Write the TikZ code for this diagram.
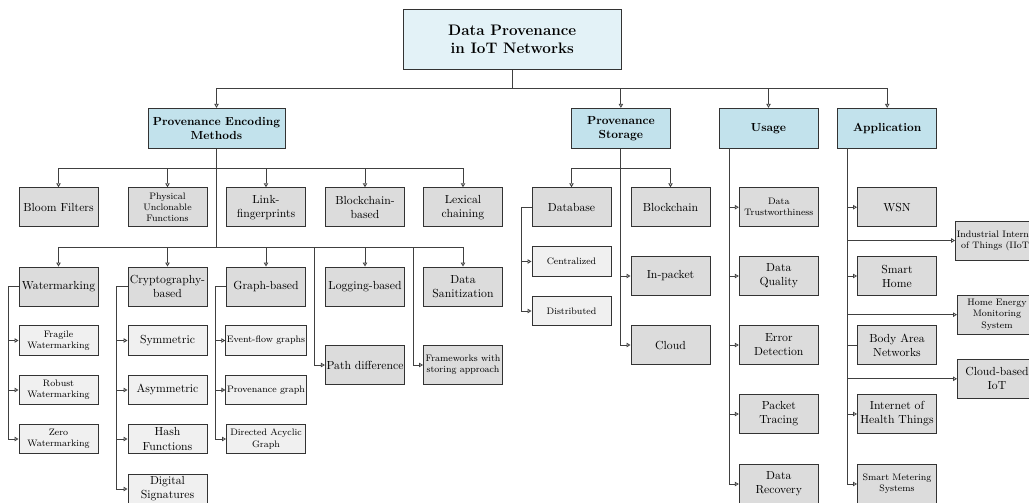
\documentclass[tikz,border=0pt]{standalone}
\usetikzlibrary{arrows.meta}
\definecolor{rootfill}{HTML}{E3F2F7}
\definecolor{lonefill}{HTML}{C2E2EC}
\definecolor{darkfill}{HTML}{DCDCDC}
\definecolor{lightfill}{HTML}{F0F0F0}
\definecolor{bordercol}{HTML}{333333}
\definecolor{edgecol}{HTML}{404040}
\begin{document}
\begin{tikzpicture}[x=0.854pt,y=-0.854pt,
 box/.style={draw=bordercol, line width=0.8pt, align=center, inner sep=1pt},
 rootbox/.style={box, fill=rootfill, minimum width=186pt, minimum height=51pt, font=\fontsize{13}{16}\selectfont\bfseries},
 topbox/.style={box, fill=lonefill, minimum width=84.5pt, minimum height=34pt, font=\bfseries},
 midbox/.style={box, fill=darkfill, minimum width=67.5pt, minimum height=33.3pt},
 subbox/.style={box, fill=lightfill, minimum width=67.5pt, minimum height=25.2pt},
 small/.style={font=\footnotesize},
 conn/.style={draw=edgecol, line width=0.7pt},
 arr/.style={conn, -{Triangle[open,length=3.4pt,width=3.8pt]}},
]
\useasboundingbox (0,0) rectangle (1029,502);
\clip (0,0) rectangle (1029,502);

% root and level 1
\node[rootbox] (root) at (512.2,39.3) {Data Provenance\\in IoT Networks};
\node[topbox, minimum width=117pt] (enc) at (216.5,128.2) {Provenance Encoding\\Methods};
\node[topbox] (stor) at (620.9,128.2) {Provenance\\Storage};
\node[topbox] (usage) at (768.5,128.2) {Usage};
\node[topbox] (app) at (887.2,128.2) {Application};

% encoding row 2
\node[midbox] (bloom) at (58.5,207.2) {Bloom Filters};
\node[midbox, small] (puf) at (167.5,207.2) {Physical\\Unclonable\\Functions};
\node[midbox] (link) at (266,207.2) {Link-\\fingerprints};
\node[midbox] (bcb) at (365,207.2) {Blockchain-\\based};
\node[midbox] (lex) at (463,207.2) {Lexical\\chaining};

% encoding row 3
\node[midbox] (wm) at (58.5,286.5) {Watermarking};
\node[midbox] (crypto) at (167.5,286.5) {Cryptography-\\based};
\node[midbox] (graph) at (266,286.5) {Graph-based};
\node[midbox] (logb) at (365,286.5) {Logging-based};
\node[midbox] (san) at (463,286.5) {Data\\Sanitization};

% sub items
\node[subbox, small] (frag) at (58.5,340.5) {Fragile\\Watermarking};
\node[subbox, small] (rob) at (58.5,390) {Robust\\Watermarking};
\node[subbox, small] (zero) at (58.5,439) {Zero\\Watermarking};
\node[subbox] (sym) at (167.5,340.5) {Symmetric};
\node[subbox] (asym) at (167.5,390) {Asymmetric};
\node[subbox] (hash) at (167.5,439) {Hash\\Functions};
\node[subbox] (dsig) at (167.5,489) {Digital\\Signatures};
\node[subbox, small] (efg) at (266,340.5) {Event-flow graphs};
\node[subbox, small] (pg) at (266,390) {Provenance graph};
\node[subbox, small] (dag) at (266,439) {Directed Acyclic\\Graph};
\node[midbox] (pd) at (365,365) {Path difference};
\node[midbox, small] (fw) at (463,365) {Frameworks with\\storing approach};

% storage
\node[midbox] (db) at (571.5,207.2) {Database};
\node[midbox] (bc) at (670.5,207.2) {Blockchain};
\node[subbox, small] (cent) at (571.5,261.5) {Centralized};
\node[subbox, small] (dist) at (571.5,311) {Distributed};
\node[midbox] (inpk) at (670.5,276) {In-packet};
\node[midbox] (cloud) at (670.5,345) {Cloud};

% usage
\node[midbox, small] (dt) at (778.8,207.2) {Data\\Trustworthiness};
\node[midbox] (dq) at (778.8,276) {Data\\Quality};
\node[midbox] (ed) at (778.8,345) {Error\\Detection};
\node[midbox] (pt) at (778.8,414) {Packet\\Tracing};
\node[midbox] (dr) at (778.8,484) {Data\\Recovery};

% application
\node[midbox] (wsn) at (897,207.2) {WSN};
\node[midbox] (sh) at (897,276) {Smart\\Home};
\node[midbox] (ban) at (897,345) {Body Area\\Networks};
\node[midbox] (ioht) at (897,414) {Internet of\\Health Things};
\node[midbox, small] (sms) at (897,484) {Smart Metering\\Systems};
\node[midbox, small] (iiot) at (997,240.5) {Industrial Internet\\of Things (IIoT)};
\node[midbox, small] (hems) at (997,314.7) {Home Energy\\Monitoring\\System};
\node[midbox] (ciot) at (997,378.8) {Cloud-based\\IoT};

% root edges
\foreach \t in {enc,stor,usage,app}
  \draw[arr] (root.south) -- ++(0,19) -| (\t.north);

% encoding edges
\foreach \t in {bloom,puf,link,bcb,lex}
  \draw[arr] (enc.south) -- ++(0,19.5) -| (\t.north);
\foreach \t in {wm,crypto,graph,logb,san}
  \draw[arr] (enc.south) -- ++(0,98.5) -| (\t.north);
\draw[arr] (enc.south) -- ++(0,98.5) -| ([xshift=-8.54pt]pd.west) -- (pd.west);
\draw[arr] (enc.south) -- ++(0,98.5) -| ([xshift=-8.54pt]fw.west) -- (fw.west);

\foreach \t in {frag,rob,zero}
  \draw[arr] (wm.west) -- ++(-9.7,0) |- (\t.west);
\foreach \t in {sym,asym,hash,dsig}
  \draw[arr] (crypto.west) -- ++(-11,0) |- (\t.west);
\foreach \t in {efg,pg,dag}
  \draw[arr] (graph.west) -- ++(-10.3,0) |- (\t.west);

% storage edges
\foreach \t in {db,bc}
  \draw[arr] (stor.south) -- ++(0,19.5) -| (\t.north);
\foreach \t in {inpk,cloud}
  \draw[arr] (stor.south) |- (\t.west);
\foreach \t in {cent,dist}
  \draw[arr] (db.west) -- ++(-10,0) |- (\t.west);

% usage edges
\coordinate (ut) at (729.3,148.2);
\foreach \t in {dt,dq,ed,pt,dr}
  \draw[arr] (ut) |- (\t.west);

% application edges
\coordinate (at) at (847.7,148.2);
\foreach \t in {wsn,sh,ioht,sms,iiot,hems,ciot}
  \draw[arr] (at) |- (\t.west);
\draw[conn] (at) |- (ban.west);
\end{tikzpicture}
\end{document}
